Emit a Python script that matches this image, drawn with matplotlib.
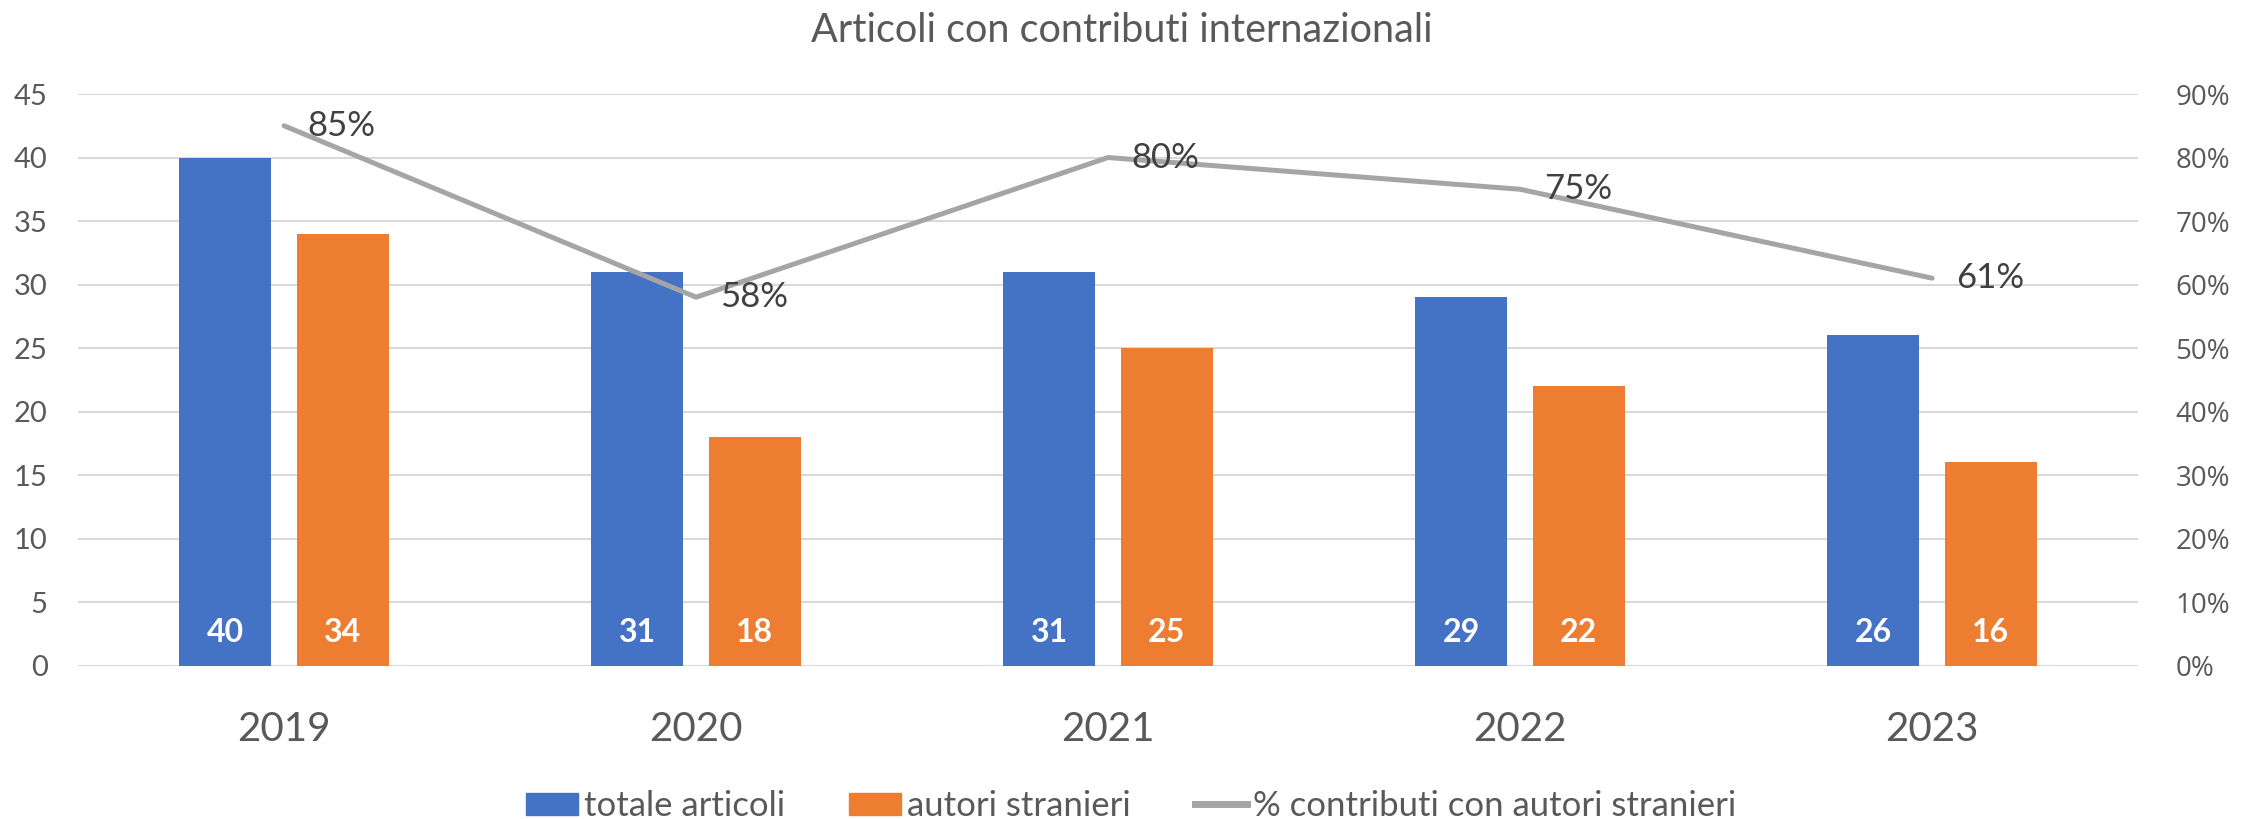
import numpy as np
import matplotlib.pyplot as plt
from matplotlib.patches import Patch
from matplotlib.lines import Line2D
from matplotlib.ticker import PercentFormatter

# dati
anni = ['2019', '2020', '2021', '2022', '2023']
totale_articoli = [40, 31, 31, 29, 26]
autori_stranieri = [34, 18, 25, 22, 16]
perc_contributi = [0.85, 0.58, 0.80, 0.75, 0.61]

blu = '#4472C4'
arancio = '#ED7D31'
grigio = '#A5A5A5'
testo = '#595959'

plt.rcParams['font.family'] = ['Lato', 'DejaVu Sans']

fig = plt.figure(figsize=(22.44, 8.19), dpi=100)
ax = fig.add_axes([0.0348, 0.1874, 0.9180, 0.6978])

x = np.arange(len(anni))
larg = 0.223
off = 0.1425
b1 = ax.bar(x - off, totale_articoli, larg, color=blu, zorder=2)
b2 = ax.bar(x + off, autori_stranieri, larg, color=arancio, zorder=2)

# etichette in basso dentro le barre
for barre, valori in [(b1, totale_articoli), (b2, autori_stranieri)]:
    for r, v in zip(barre, valori):
        ax.annotate(str(v), xy=(r.get_x() + r.get_width() / 2, 0), xytext=(0, 23.5),
                    textcoords='offset points', ha='center', va='center',
                    color='white', fontsize=23, fontweight='bold')

ax.set_xlim(-0.5, len(anni) - 0.5)
ax.set_ylim(0, 45)
ax.set_yticks(range(0, 50, 5))
ax.grid(axis='y', color='#D9D9D9', linewidth=1.5, zorder=0)
ax.set_axisbelow(True)
ax.set_xticks(x)
ax.set_xticklabels(anni)
ax.tick_params(axis='x', length=0, pad=33, labelsize=29, labelcolor=testo)
ax.tick_params(axis='y', length=0, pad=22, labelsize=21, labelcolor=testo)
for s in ax.spines.values():
    s.set_visible(False)

# asse secondario con la percentuale
ax2 = ax.twinx()
ax2.plot(x, perc_contributi, color=grigio, linewidth=3.6, solid_capstyle='round', zorder=3)
ax2.set_ylim(0, 0.9)
ax2.set_yticks(np.arange(0, 0.91, 0.1))
ax2.yaxis.set_major_formatter(PercentFormatter(1.0, decimals=0))
ax2.tick_params(axis='y', length=0, pad=27, labelsize=20, labelcolor=testo)
for lab in ax2.get_yticklabels():
    lab.set_family('Open Sans')
for s in ax2.spines.values():
    s.set_visible(False)

for xi, p in zip(x, perc_contributi):
    ax2.annotate(f'{p:.0%}', xy=(xi, p), xytext=(17, 0), textcoords='offset points',
                 ha='left', va='center', color='#404040', fontsize=25)

fig.text(0.5, 1 - 31 / 819, 'Articoli con contributi internazionali',
         ha='center', va='center', fontsize=28.5, color=testo)

maniglie = [Patch(color=blu), Patch(color=arancio),
            Line2D([], [], color=grigio, linewidth=5)]
etichette = ['totale articoli', 'autori stranieri', '% contributi con autori stranieri']
fig.legend(maniglie, etichette, loc='center', bbox_to_anchor=(0.504, 1 - 806 / 819),
           ncol=3, frameon=False, fontsize=25, labelcolor=testo,
           handlelength=1.5, handleheight=0.6, handletextpad=0.17, columnspacing=1.85)

fig.savefig('out.png', dpi=100)
